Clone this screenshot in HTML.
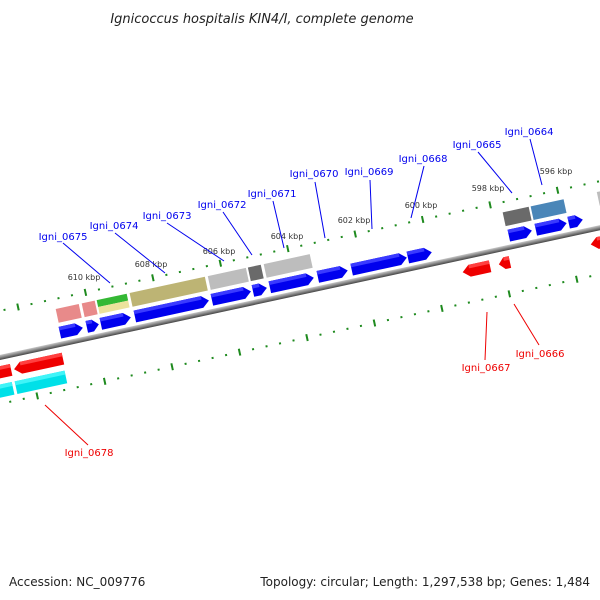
<!DOCTYPE html>
<html><head><meta charset="utf-8"><style>
html,body{margin:0;padding:0;background:#fff;}
svg{display:block;font-family:"DejaVu Sans","Liberation Sans",sans-serif;}
</style></head><body>
<svg id="map" width="600" height="600" viewBox="0 0 600 600" xmlns="http://www.w3.org/2000/svg">
<defs>
<linearGradient id="bb" x1="0" y1="0" x2="0" y2="1"><stop offset="0" stop-color="#c8c8c8"/><stop offset="0.5" stop-color="#888"/><stop offset="1" stop-color="#444"/></linearGradient>
</defs>
<text x="262" y="23" font-size="13" font-style="italic" text-anchor="middle" fill="#222">Ignicoccus hospitalis KIN4/I, complete genome</text>
<g id="track" transform="translate(300,291) rotate(-12.2)"></g>
<g id="labels"></g>
<text x="9" y="586" font-size="12" fill="#222">Accession: NC_009776</text>
<text x="590" y="586" font-size="12" text-anchor="end" fill="#222">Topology: circular; Length: 1,297,538 bp; Genes: 1,484</text>
</svg>
<script>
// along-track positions (track units)
const fwdStart = [-244.5,-217,-202.6,-167.8,-89,-47,-29.7,19.4,54,111.5,214.8,242.4,276];
const fwdEnd   = [-219,-202.6,-169.9,-90,-47,-30.7,17.3,52,112.5,138,240.4,276,292.5];
const cogStart = [-243.6,-217,-201.7,-168,-88,-47,-30.8,213.7,242.3,310];
const cogEnd   = [-218,-201.7,-169,-89,-47,-31.8,18.3,242.3,278,323];
const cogColor = ['#e88a8a','#e88a8a','split','#bdb474','#bdbdbd','#6a6a6a','#bdbdbd','#6a6a6a','#4a86b8','#bdbdbd'];
const revStart = [-325,-297,162,199,293];
const revEnd   = [-298,-245,192,212.3,312];
const cyanStart = [-330,-299];
const cyanEnd   = [-300,-246];
const tickKbp = [620,618,616,614,612,610,608,606,604,602,600,598,596,594,592,590,588];
const tickLabels = ['610 kbp','608 kbp','606 kbp','604 kbp','602 kbp','600 kbp','598 kbp','596 kbp'];
const tickLabelKbp = [610,608,606,604,602,600,598,596];
const tickLabelPos = [[84,277],[151,264],[219,251],[287,236],[354,220],[421,205],[488,188],[556,171]];
const geneLabels = ['Igni_0675','Igni_0674','Igni_0673','Igni_0672','Igni_0671','Igni_0670','Igni_0669','Igni_0668','Igni_0665','Igni_0664','Igni_0666','Igni_0667','Igni_0678'];
const geneLabelPos = [[63,240,63,243,110,283],[114,229,115,233,165,273],[167,219,167,223,224,261],[222,208,223,212,252,255],[272,197,273,201,284,248],[314,177,315,182,325,238],[369,175,370,180,372,229],[423,162,424,166,411,218],[477,148,478,152,512,193],[529,135,530,139,542,185],[540,357,539,345,514,304],[486,371,485,360,487,312],[89,456,88,445,45,405]];
const labelColor = ['b','b','b','b','b','b','b','b','b','b','r','r','r'];

const NS='http://www.w3.org/2000/svg';
const track=document.getElementById('track');
const labels=document.getElementById('labels');
function kbpToU(k){return -210+(610-k)*34.5;}
function mk(tag,attrs,parent){const e=document.createElementNS(NS,tag);for(const k in attrs)e.setAttribute(k,attrs[k]);parent.appendChild(e);return e;}

// backbone
let bbone=mk('rect',{x:-420,y:-1,width:840,height:5,fill:'url(#bb)'},track);



// ticks
for(let k=620;k>=588-0.001;k-=0.4){
  const kk=Math.round(k*10)/10;
  const u=kbpToU(kk);
  const major=Math.abs(kk/2-Math.round(kk/2))<0.01;
  [-44,47].forEach(v=>{
    let t;
    if(major) t=mk('rect',{x:u-1,y:v-3.5,width:2,height:7,fill:'#1e8a1e'},track);
    else t=mk('rect',{x:u-1,y:v-1,width:2,height:2,fill:'#1e8a1e'},track);
    
    
  });
}

function arrow(s,e,v0,h,dir,fill,top,name){
  const head=Math.min(7,(e-s)*0.5);
  let pts;
  if(dir>0) pts=[[s,v0],[e-head,v0],[e,v0+h/2],[e-head,v0+h],[s,v0+h]];
  else pts=[[e,v0],[s+head,v0],[s,v0+h/2],[s+head,v0+h],[e,v0+h]];
  const p=mk('polygon',{points:pts.map(q=>q.join(',')).join(' '),fill:fill},track);
  
  
  const t=mk('rect',{x:(dir>0?s:s+head),y:v0,width:(e-s-head),height:h*0.3,fill:top},track);
  
  
}
fwdStart.forEach((s,i)=>arrow(s+1,fwdEnd[i]-1,-16,12,1,'#0000ee','#3a3aff','forward-gene'));
revStart.forEach((s,i)=>arrow(s+1,revEnd[i]-1,10,12,-1,'#ee0000','#ff4040','reverse-gene'));
cyanStart.forEach((s,i)=>{
  const r=mk('rect',{x:s+1,y:28,width:cyanEnd[i]-s-2,height:13,fill:'#00e0e8'},track);
  
  
  const h=mk('rect',{x:s+1,y:28,width:cyanEnd[i]-s-2,height:4,fill:'#40f4f8'},track);
  
  
});
cogStart.forEach((s,i)=>{
  const w=cogEnd[i]-s-2;
  if(cogColor[i]==='split'){
    const a=mk('rect',{x:s+1,y:-34,width:w,height:7,fill:'#34b834'},track);
    
    
    const b=mk('rect',{x:s+1,y:-27,width:w,height:7,fill:'#ece29c'},track);
    
    
  } else {
    const r=mk('rect',{x:s+1,y:-34,width:w,height:14,fill:cogColor[i]},track);
    
    
  }
});

// tick labels
tickLabels.forEach((t,i)=>{
  const e=mk('text',{x:tickLabelPos[i][0],y:tickLabelPos[i][1]+3,'font-size':8,'text-anchor':'middle',fill:'#333'},labels);
  e.textContent=t;
  
  
});
// gene labels
geneLabels.forEach((t,i)=>{
  const p=geneLabelPos[i];const c=labelColor[i]==='b'?'#0000ee':'#ee0000';
  const l=mk('line',{x1:p[2],y1:p[3],x2:p[4],y2:p[5],stroke:c,'stroke-width':1},labels);
  
  
  const e=mk('text',{x:p[0],y:p[1],'font-size':10,'text-anchor':'middle',fill:c},labels);
  e.textContent=t;
  
  
});
</script>
</body></html>
